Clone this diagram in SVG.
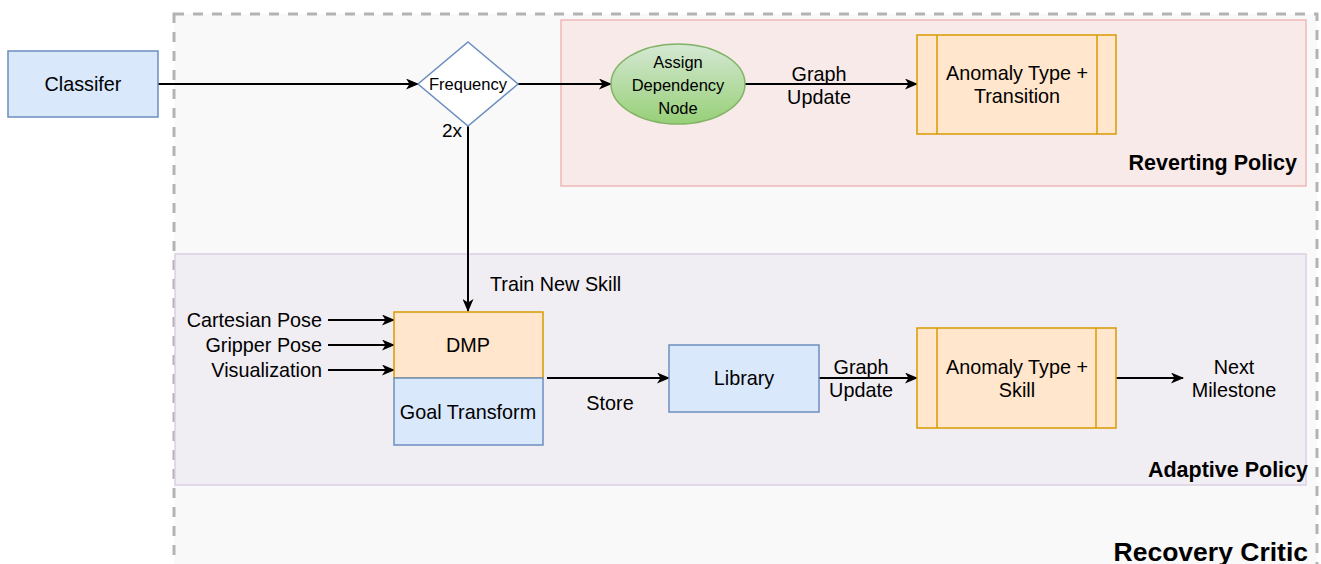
<svg xmlns="http://www.w3.org/2000/svg" width="1321" height="564" viewBox="0 0 1321 564">
<defs>
<style>
text{font-family:"Liberation Sans",Arial,sans-serif;fill:#000}
.t17{font-size:19.8px}
.t14{font-size:16.5px}
.b{font-weight:bold}
.blue{fill:#DAE8FC;stroke:#6C8EBF;stroke-width:1.5}
.orange{fill:#FFE6CC;stroke:#D79B00;stroke-width:1.5}
.edge{fill:none;stroke:#000;stroke-width:2;marker-end:url(#arr)}
</style>
<marker id="arr" viewBox="0 0 13 11" refX="12" refY="5.5" markerWidth="13" markerHeight="11" markerUnits="userSpaceOnUse" orient="auto">
<path d="M0,0 L13,5.5 L0,11 L3.5,5.5 z" fill="#000"/>
</marker>
<linearGradient id="green" x1="0" y1="0" x2="0" y2="1">
<stop offset="0" stop-color="#D5E8D4"/>
<stop offset="1" stop-color="#97D077"/>
</linearGradient>
</defs>
<rect width="1321" height="564" fill="#FFFFFF"/>
<g id="recovery-critic">
<rect x="174" y="14" width="1143" height="600" fill="#F9F9F9" stroke="#B3B3B3" stroke-width="3" stroke-dasharray="10 9"/>
<text x="1308" y="561" text-anchor="end" class="b" style="font-size:26.5px">Recovery Critic</text>
</g>
<g id="reverting-policy">
<rect x="561" y="20" width="745" height="166" fill="#F8EAE9" stroke="#EEB8B6" stroke-width="1.5"/>
<text x="1297" y="170" text-anchor="end" class="b" style="font-size:21.5px">Reverting Policy</text>
</g>
<g id="adaptive-policy">
<rect x="175" y="254" width="1131" height="231" fill="#F0EDF3" stroke="#DCD0E4" stroke-width="1.5"/>
<text x="1308" y="477" text-anchor="end" class="b" style="font-size:21.5px">Adaptive Policy</text>
</g>
<g id="connectors">
<path class="edge" d="M158,84 L418,84"/>
<path class="edge" d="M518,84 L611,84"/>
<path class="edge" d="M745,84 L917,84"/>
<path class="edge" d="M468,126 L468,311"/>
<path class="edge" d="M328,320 L394,320"/>
<path class="edge" d="M328,345 L394,345"/>
<path class="edge" d="M328,370 L394,370"/>
<path class="edge" d="M547,378 L669,378"/>
<path class="edge" d="M819,378 L917,378"/>
<path class="edge" d="M1116,378 L1183,378"/>
<text x="452" y="137" text-anchor="middle" style="font-size:19px">2x</text>
<text x="819" y="81" text-anchor="middle" class="t17">Graph</text>
<text x="819" y="104" text-anchor="middle" class="t17">Update</text>
<text x="490" y="291" class="t17">Train New Skill</text>
<text x="610" y="410" text-anchor="middle" class="t17">Store</text>
<text x="861" y="374" text-anchor="middle" class="t17">Graph</text>
<text x="861" y="397" text-anchor="middle" class="t17">Update</text>
</g>
<g id="classifier">
<rect x="8" y="51" width="150" height="66" class="blue"/>
<text x="83" y="91" text-anchor="middle" class="t17">Classifer</text>
</g>
<g id="frequency">
<polygon points="468,42 518,84 468,126 418,84" fill="#FFFFFF" stroke="#6C8EBF" stroke-width="1.5"/>
<text x="468" y="90" text-anchor="middle" class="t14">Frequency</text>
</g>
<g id="assign-dependency-node">
<ellipse cx="678" cy="84" rx="67" ry="40" fill="url(#green)" stroke="#82B366" stroke-width="1.5"/>
<text x="678" y="68" text-anchor="middle" class="t14">Assign</text>
<text x="678" y="91" text-anchor="middle" class="t14">Dependency</text>
<text x="678" y="114" text-anchor="middle" class="t14">Node</text>
</g>
<g id="anomaly-transition">
<rect x="917" y="35" width="199" height="99" class="orange"/>
<line x1="937" y1="35" x2="937" y2="134" stroke="#D79B00" stroke-width="1.5"/>
<line x1="1097" y1="35" x2="1097" y2="134" stroke="#D79B00" stroke-width="1.5"/>
<text x="1017" y="80" text-anchor="middle" class="t17">Anomaly Type +</text>
<text x="1017" y="103" text-anchor="middle" class="t17">Transition</text>
</g>
<g id="inputs">
<text x="322" y="327" text-anchor="end" class="t17">Cartesian Pose</text>
<text x="322" y="352" text-anchor="end" class="t17">Gripper Pose</text>
<text x="322" y="377" text-anchor="end" class="t17">Visualization</text>
</g>
<g id="dmp">
<rect x="394" y="312" width="149" height="66" class="orange"/>
<text x="468" y="352" text-anchor="middle" class="t17">DMP</text>
</g>
<g id="goal-transform">
<rect x="394" y="378" width="149" height="67" class="blue"/>
<text x="468" y="419" text-anchor="middle" class="t17">Goal Transform</text>
</g>
<g id="library">
<rect x="669" y="345" width="150" height="67" class="blue"/>
<text x="744" y="385" text-anchor="middle" class="t17">Library</text>
</g>
<g id="anomaly-skill">
<rect x="917" y="328" width="199" height="100" class="orange"/>
<line x1="937" y1="328" x2="937" y2="428" stroke="#D79B00" stroke-width="1.5"/>
<line x1="1096" y1="328" x2="1096" y2="428" stroke="#D79B00" stroke-width="1.5"/>
<text x="1017" y="374" text-anchor="middle" class="t17">Anomaly Type +</text>
<text x="1017" y="397" text-anchor="middle" class="t17">Skill</text>
</g>
<g id="next-milestone">
<text x="1234" y="374" text-anchor="middle" class="t17">Next</text>
<text x="1234" y="397" text-anchor="middle" class="t17">Milestone</text>
</g>
</svg>
